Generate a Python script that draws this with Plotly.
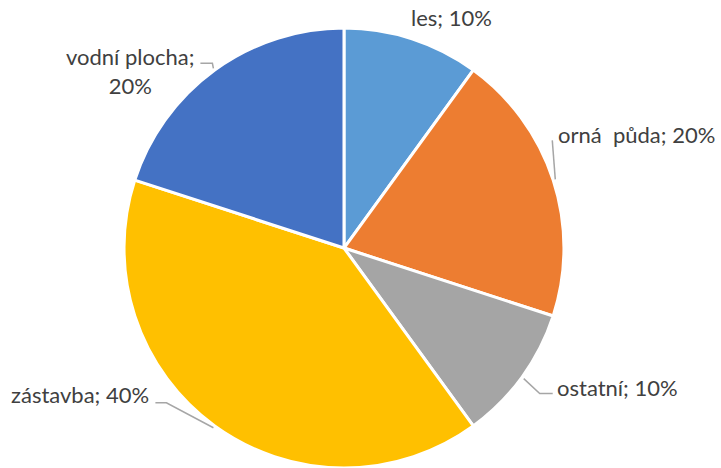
import math
import plotly.graph_objects as go

categories = ["les", "orná\u00a0\u00a0půda", "ostatní", "zástavba", "vodní plocha"]
values = [10, 20, 10, 40, 20]
colors = ["#5B9BD5", "#ED7D31", "#A5A5A5", "#FFC000", "#4472C4"]

W, H = 721, 468
dom_x = [0.1692, 0.7850]
dom_y = [0.0, 0.94]

fig = go.Figure(go.Pie(
    labels=categories, values=values, sort=False, direction="clockwise",
    rotation=0, marker=dict(colors=colors, line=dict(color="white", width=3)),
    textinfo="none", hoverinfo="label+percent", domain=dict(x=dom_x, y=dom_y),
    showlegend=False,
))

# pie geometry in pixels
cx = W * (dom_x[0] + dom_x[1]) / 2
cy = H * (1 - (dom_y[0] + dom_y[1]) / 2)
R = min(W * (dom_x[1] - dom_x[0]), H * (dom_y[1] - dom_y[0])) / 2
total = sum(values)

def px(x, y):
    return x / W, 1 - y / H

# label layout (style): text anchor offset from arc midpoint, leader path offsets
layout_cfg = {
    categories[0]: dict(sep="; ", dx=39, dy=-19, xa="center", leader=None),
    categories[1]: dict(sep="; ", dx=1, dy=-45, xa="left", leader=[(-3, -39)]),
    categories[2]: dict(sep="; ", dx=31, dy=9, xa="left",
                        leader=[(16, 15), (29, 15)]),
    categories[3]: dict(sep="; ", dx=-62, dy=-33, xa="right",
                        leader=[(-47, -25), (-58, -25)]),
    categories[4]: dict(sep=";<br>", dx=-83, dy=3, xa="center",
                        leader=[(-1, -5), (-13, -5)]),
}

cum = 0
annotations = []
shapes = []
for cat, v in zip(categories, values):
    mid = (cum + v / 2) / total * 2 * math.pi
    cum += v
    ax = cx + R * 1.01 * math.sin(mid)
    ay = cy - R * 1.01 * math.cos(mid)
    cfg = layout_cfg[cat]
    pct = round(v / total * 100)
    tx, ty = px(ax + cfg["dx"], ay + cfg["dy"])
    annotations.append(dict(
        x=tx, y=ty, xref="paper", yref="paper", text=f"{cat}{cfg['sep']}{pct}%",
        showarrow=False, xanchor=cfg["xa"], yanchor="middle",
        font=dict(size=22, color="#404040", family="Lato, Carlito, sans-serif"),
        align="center",
    ))
    if cfg["leader"]:
        pts = [(ax, ay)] + [(ax + ox, ay + oy) for ox, oy in cfg["leader"]]
        path = "M " + " L ".join(f"{p[0]/W:.5f},{1 - p[1]/H:.5f}" for p in pts)
        shapes.append(dict(type="path", xref="paper", yref="paper", path=path,
                           line=dict(color="#A6A6A6", width=1.5)))

fig.update_layout(
    width=W, height=H, margin=dict(l=0, r=0, t=0, b=0),
    paper_bgcolor="white", plot_bgcolor="white",
    annotations=annotations, shapes=shapes,
)
fig.write_html("out.html", config={"displayModeBar": False},
               post_script="document.body.style.margin='0';")
